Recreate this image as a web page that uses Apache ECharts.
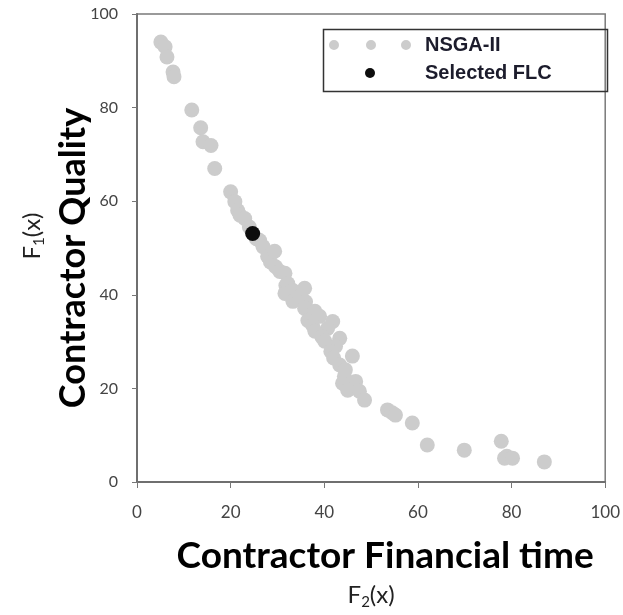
<!DOCTYPE html>
<html>
<head>
<meta charset="utf-8">
<script src="https://cdn.jsdelivr.net/npm/echarts@6/dist/echarts.min.js"></script>
<style>
html,body{margin:0;padding:0;background:#fff;}
#chart{width:623px;height:615px;}
</style>
</head>
<body>
<div id="chart"></div>
<script>
// Pareto front (NSGA-II): F2(x) values and F1(x) values
var nsgaF2 = [5.1, 6.0, 6.4, 7.7, 7.9, 11.7, 13.6, 14.1, 15.8, 16.6, 20.0, 20.9, 21.5, 22.0, 23.0, 24.0, 25.5, 26.2, 26.9, 27.9, 28.5, 29.4, 29.6, 30.5, 31.6, 31.8, 32.2, 31.6, 33.3, 33.3, 34.8, 35.8, 36.0, 35.8, 37.2, 38.0, 36.5, 39.0, 41.8, 40.7, 37.5, 38.0, 39.5, 43.3, 40.1, 42.4, 41.4, 42.0, 46.0, 43.3, 44.5, 44.3, 46.7, 43.9, 45.0, 47.5, 48.6, 53.5, 54.5, 55.2, 58.8, 62.0, 69.9, 77.8, 78.5, 79.0, 80.2, 87.0];
var nsgaF1 = [94.0, 93.0, 90.8, 87.6, 86.6, 79.5, 75.7, 72.7, 71.9, 67.0, 62.0, 59.9, 58.0, 57.0, 56.3, 54.5, 52.0, 51.6, 50.3, 48.2, 47.0, 49.3, 46.0, 45.0, 44.6, 42.0, 42.4, 40.3, 40.9, 38.6, 39.7, 41.4, 38.5, 37.1, 35.8, 36.5, 34.5, 35.4, 34.3, 32.8, 33.5, 32.2, 31.0, 30.7, 30.1, 29.0, 27.9, 26.5, 26.9, 25.0, 24.0, 22.6, 21.5, 21.1, 19.6, 19.4, 17.5, 15.4, 14.8, 14.3, 12.6, 7.9, 6.8, 8.7, 5.1, 5.5, 5.1, 4.3];
// Selected compromise solution
var selectedF2 = [24.7];
var selectedF1 = [53.1];
// Axis ticks
var xTicks = [0, 20, 40, 60, 80, 100];
var yTicks = [0, 20, 40, 60, 80, 100];

var nsgaData = nsgaF2.map(function (v, i) { return [v, nsgaF1[i]]; });
var selData = selectedF2.map(function (v, i) { return [v, selectedF1[i]]; });

var threeDots = 'path://M0,5L0.01,5M100,5L99.99,5' +
  'M9,5a5,5 0 1,0 10,0a5,5 0 1,0 -10,0' +
  'M46,5a5,5 0 1,0 10,0a5,5 0 1,0 -10,0' +
  'M81,5a5,5 0 1,0 10,0a5,5 0 1,0 -10,0Z';

var tickStep = xTicks[1] - xTicks[0];
var chart = echarts.init(document.getElementById('chart'), null, {renderer: 'canvas'});
var axisGrey = '#6f6f6f';
var labelStyle = {fontFamily: 'Lato', fontSize: 16, color: '#444'};

chart.setOption({
  animation: false,
  backgroundColor: '#ffffff',
  grid: {left: 137, right: 16, top: 14, bottom: 131, show: true, borderColor: '#7a7a7a', borderWidth: 1.5, backgroundColor: 'transparent'},
  legend: {
    orient: 'vertical', left: 320, top: 35, padding: 0,
    itemWidth: 100, itemHeight: 10, itemGap: 8,
    itemStyle: {borderWidth: 0},
    textStyle: {fontFamily: 'Liberation Sans', fontWeight: 'bold', fontSize: 20, color: '#1c1c2c'},
    data: [{name: 'NSGA-II', icon: threeDots}, {name: 'Selected FLC', icon: 'circle'}]
  },
  graphic: [{
    type: 'rect', left: 321, top: 27, z: 100,
    shape: {width: 284, height: 62},
    style: {fill: 'none', stroke: '#333', lineWidth: 1.5}
  }],
  xAxis: [{
    type: 'value', min: xTicks[0], max: xTicks[xTicks.length - 1], interval: tickStep,
    axisLine: {lineStyle: {color: axisGrey, width: 2}},
    axisTick: {show: false}, axisLabel: {show: false}, splitLine: {show: false},
    name: 'Contractor Financial time', nameLocation: 'middle', nameGap: 56,
    nameTextStyle: {fontFamily: 'Lato', fontWeight: 'bold', fontSize: 37, color: '#000', padding: [0, 0, 0, 28]}
  }, {
    type: 'value', position: 'bottom', offset: 6,
    min: xTicks[0], max: xTicks[xTicks.length - 1], interval: tickStep,
    axisLine: {show: false},
    axisTick: {length: 6, lineStyle: {color: '#777'}},
    axisLabel: Object.assign({margin: 16}, labelStyle, {fontSize: 17}),
    splitLine: {show: false},
    name: '{f|F}{s|2}{f|(x)}', nameLocation: 'middle', nameGap: 92,
    nameTextStyle: {rich: {
      f: {fontFamily: 'Lato', fontSize: 24, color: '#222', lineHeight: 30, verticalAlign: 'middle'},
      s: {fontFamily: 'Lato', fontSize: 15, color: '#222', lineHeight: 30, verticalAlign: 'bottom', padding: [10, 0, 0, 0]}
    }}
  }],
  yAxis: [{
    type: 'value', min: yTicks[0], max: yTicks[yTicks.length - 1], interval: tickStep,
    axisLine: {lineStyle: {color: axisGrey, width: 2}},
    axisTick: {show: false}, axisLabel: {show: false}, splitLine: {show: false},
    name: 'Contractor Quality', nameLocation: 'middle', nameRotate: 90, nameGap: 46,
    nameTextStyle: {fontFamily: 'Lato', fontWeight: 'bold', fontSize: 36, color: '#000', padding: [0, 20, 0, 0]}
  }, {
    type: 'value', position: 'left', offset: 9,
    min: yTicks[0], max: yTicks[yTicks.length - 1], interval: tickStep,
    axisLine: {show: false},
    axisTick: {length: 5, lineStyle: {color: '#777'}},
    axisLabel: Object.assign({margin: 10}, labelStyle),
    splitLine: {show: false},
    name: '{f|F}{s|1}{f|(x)}', nameLocation: 'middle', nameRotate: 90, nameGap: 81,
    nameTextStyle: {padding: [0, 0, 0, 24], rich: {
      f: {fontFamily: 'Lato', fontSize: 24, color: '#222', lineHeight: 30, verticalAlign: 'middle'},
      s: {fontFamily: 'Lato', fontSize: 15, color: '#222', lineHeight: 30, verticalAlign: 'bottom', padding: [10, 0, 0, 0]}
    }}
  }],
  series: [{
    name: 'NSGA-II', type: 'scatter', xAxisIndex: 0, yAxisIndex: 0,
    symbol: 'circle', symbolSize: 15, symbolKeepAspect: true,
    itemStyle: {color: '#cccccc', opacity: 1},
    data: nsgaData, z: 2
  }, {
    name: 'Selected FLC', type: 'scatter', xAxisIndex: 0, yAxisIndex: 0,
    symbol: 'circle', symbolSize: 15,
    itemStyle: {color: '#0d0d0d', opacity: 1},
    data: selData, z: 3
  }]
});
</script>
</body>
</html>
